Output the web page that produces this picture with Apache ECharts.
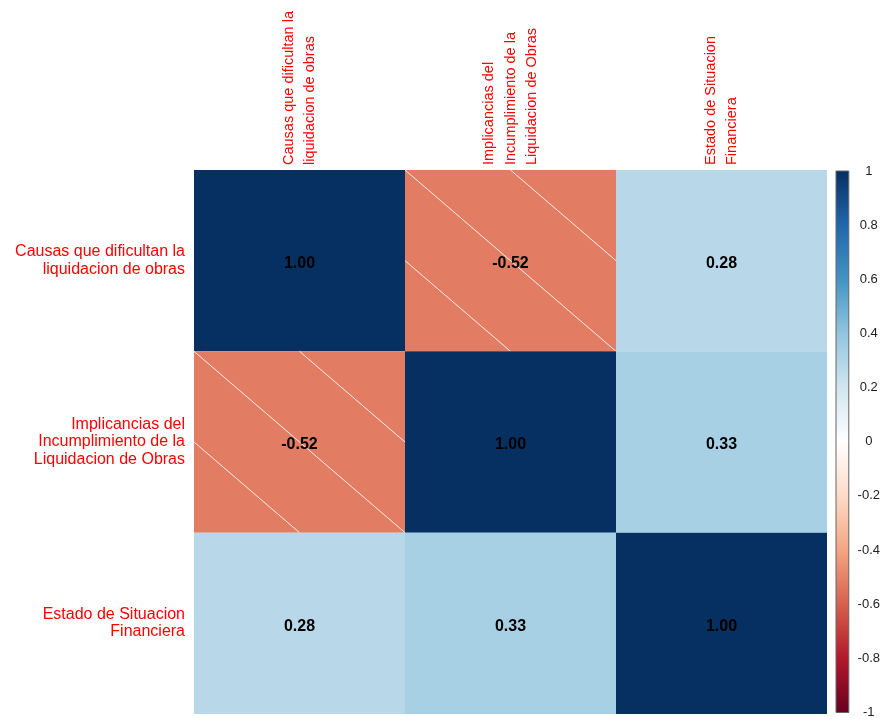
<!DOCTYPE html>
<html>
<head>
<meta charset="utf-8">
<script src="https://cdn.jsdelivr.net/npm/echarts@6/dist/echarts.min.js"></script>
<style>
html,body{margin:0;padding:0;background:#fff;}
#chart{width:883px;height:719px;}
</style>
</head>
<body>
<div id="chart"></div>
<script>
// ---- data ----
var variables = [
  'Causas que dificultan la\nliquidacion de obras',
  'Implicancias del\nIncumplimiento de la\nLiquidacion de Obras',
  'Estado de Situacion\nFinanciera'
];
var rowCausas = [1.00, -0.52, 0.28];
var rowImplicancias = [-0.52, 1.00, 0.33];
var rowEstado = [0.28, 0.33, 1.00];
var palette = ['#67001F', '#B2182B', '#D6604D', '#F4A582', '#FDDBC7', '#FFFFFF',
               '#D1E5F0', '#92C5DE', '#4393C3', '#2166AC', '#053061'];
var colorbarRange = [-1, 1];

var matrix = [rowCausas, rowImplicancias, rowEstado];
var cells = [];
matrix.forEach(function (row, r) {
  row.forEach(function (v, c) { cells.push([c, r, v]); });
});

var FONT = 'Liberation Sans, Arial, sans-serif';

var chart = echarts.init(document.getElementById('chart'));

function renderCell(params, api) {
  var c = api.value(0), r = api.value(1), v = api.value(2);
  var center = api.coord([c, r]);
  var size = api.size([1, 1]);
  var x0 = center[0] - size[0] / 2, y0 = center[1] - size[1] / 2;
  var w = size[0], h = size[1];
  var children = [{
    type: 'rect',
    shape: { x: x0, y: y0, width: w, height: h },
    style: { fill: api.visual('color') }
  }];
  if (v < 0) {
    var segs = [
      [x0, y0, x0 + w, y0 + h],
      [x0 + w / 2, y0, x0 + w, y0 + h / 2],
      [x0, y0 + h / 2, x0 + w / 2, y0 + h]
    ];
    segs.forEach(function (s) {
      children.push({
        type: 'line',
        shape: { x1: s[0], y1: s[1], x2: s[2], y2: s[3] },
        style: { stroke: 'rgba(255,255,255,0.85)', lineWidth: 1 }
      });
    });
  }
  children.push({
    type: 'text',
    style: {
      text: v.toFixed(2),
      x: center[0], y: center[1] + 3,
      align: 'center', verticalAlign: 'middle',
      font: 'bold 16px ' + FONT,
      fill: '#000'
    }
  });
  return { type: 'group', children: children };
}

function renderColorbar(params, api) {
  var p1 = api.coord([0, api.value(1)]);
  var p2 = api.coord([1, api.value(0)]);
  var stops = palette.map(function (col, i) {
    return { offset: 1 - i / (palette.length - 1), color: col };
  });
  return {
    type: 'rect',
    shape: { x: p1[0], y: p1[1], width: p2[0] - p1[0], height: p2[1] - p1[1] },
    style: {
      fill: new echarts.graphic.LinearGradient(0, 0, 0, 1, stops.reverse()),
      stroke: '#666', lineWidth: 1
    }
  };
}

chart.setOption({
  animation: false,
  backgroundColor: '#fff',
  grid: [
    { left: 194, top: 170, width: 633, height: 544 },
    { left: 836, top: 171, width: 16, height: 543 }
  ],
  xAxis: [
    {
      type: 'category', gridIndex: 0, position: 'top', data: variables,
      axisLine: { show: false }, axisTick: { show: false }, splitLine: { show: false },
      axisLabel: {
        rotate: -90, margin: 5, color: '#FF0000', fontSize: 14.5, lineHeight: 21.5,
        fontFamily: FONT, interval: 0, padding: [6, 0, 0, 0]
      }
    },
    { type: 'value', gridIndex: 1, min: 0, max: 1, show: false }
  ],
  yAxis: [
    {
      type: 'category', gridIndex: 0, inverse: true, data: variables,
      axisLine: { show: false }, axisTick: { show: false }, splitLine: { show: false },
      axisLabel: {
        margin: 9, color: '#FF0000', fontSize: 16, lineHeight: 17.5,
        fontFamily: FONT, align: 'right', interval: 0, padding: [3, 0, 0, 0]
      }
    },
    {
      type: 'value', gridIndex: 1, position: 'right', min: -1, max: 1, interval: 0.2,
      axisLine: { show: false },
      splitLine: { show: false },
      axisTick: { show: true, length: 5, lineStyle: { color: '#444', width: 1 } },
      axisLabel: {
        margin: 20, align: 'center', color: '#222', fontSize: 13, fontFamily: FONT
      }
    }
  ],
  visualMap: {
    type: 'continuous', show: false, min: -1, max: 1, dimension: 2, seriesIndex: 0,
    inRange: { color: palette }
  },
  series: [
    {
      type: 'custom', xAxisIndex: 0, yAxisIndex: 0,
      renderItem: renderCell, data: cells, silent: true
    },
    {
      type: 'custom', xAxisIndex: 1, yAxisIndex: 1,
      renderItem: renderColorbar, data: [colorbarRange], silent: true
    }
  ]
});
</script>
</body>
</html>
